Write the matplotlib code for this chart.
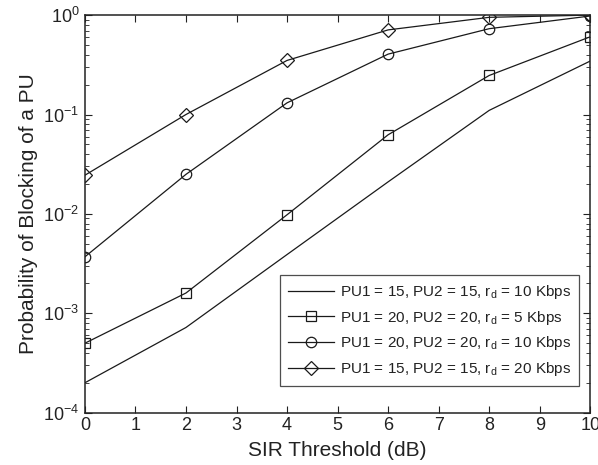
import matplotlib
matplotlib.use("Agg")
import matplotlib.pyplot as plt
from matplotlib.ticker import LogLocator, NullFormatter, FixedLocator

plt.rcParams['font.family'] = ['Liberation Sans', 'DejaVu Sans']
plt.rcParams['mathtext.fontset'] = 'custom'
plt.rcParams['mathtext.rm'] = 'Liberation Sans'
plt.rcParams['mathtext.it'] = 'Liberation Sans'
plt.rcParams['mathtext.default'] = 'regular'

sir_db = [0, 2, 4, 6, 8, 10]
p_15_15_10 = [0.0002, 0.00072, 0.0039, 0.021, 0.11, 0.345]
p_20_20_5 = [0.0005, 0.0016, 0.0098, 0.0625, 0.247, 0.605]
p_20_20_10 = [0.0037, 0.025, 0.131, 0.405, 0.73, 0.98]
p_15_15_20 = [0.0245, 0.1, 0.35, 0.71, 0.95, 1.0]

labels = [
    r'PU1 = 15, PU2 = 15, r$_d$ = 10 Kbps',
    r'PU1 = 20, PU2 = 20, r$_d$ = 5 Kbps',
    r'PU1 = 20, PU2 = 20, r$_d$ = 10 Kbps',
    r'PU1 = 15, PU2 = 15, r$_d$ = 20 Kbps',
]

fig = plt.figure(figsize=(5.98, 4.65), dpi=100)
ax = fig.add_axes([0.142, 0.1125, 0.845, 0.855])

lc = '#1a1a1a'
kw = dict(color=lc, linewidth=0.9, markerfacecolor='none', markeredgecolor=lc,
          markeredgewidth=0.9)
ax.semilogy(sir_db, p_15_15_10, label=labels[0], **kw)
ax.semilogy(sir_db, p_20_20_5, marker='s', markersize=7, label=labels[1], **kw)
ax.semilogy(sir_db, p_20_20_10, marker='o', markersize=7.5, label=labels[2], **kw)
ax.semilogy(sir_db, p_15_15_20, marker='D', markersize=7, label=labels[3], **kw)

ax.set_xlim(0, 10)
ax.set_ylim(1e-4, 1)
ax.xaxis.set_major_locator(FixedLocator(range(0, 11)))
ax.yaxis.set_major_locator(LogLocator(base=10, numticks=10))
ax.yaxis.set_minor_locator(LogLocator(base=10, subs=range(2, 10), numticks=10))
ax.yaxis.set_minor_formatter(NullFormatter())

ax.tick_params(which='both', direction='in', top=True, right=True,
               labelsize=13, colors='#222222')
ax.tick_params(which='major', length=5, width=0.8)
ax.tick_params(which='minor', length=3, width=0.6)
ax.tick_params(axis='x', pad=3)
ax.tick_params(axis='y', pad=4)
for s in ax.spines.values():
    s.set_linewidth(1.1)
    s.set_color('#222222')

ax.set_xlabel('SIR Threshold (dB)', fontsize=15, color='#222222', labelpad=5)
ax.set_ylabel('Probability of Blocking of a PU', fontsize=15, color='#222222', labelpad=4)

leg = ax.legend(loc='lower right', bbox_to_anchor=(0.977, 0.068), fontsize=11,
                frameon=True, fancybox=False, edgecolor='#222222',
                handlelength=3.0, handletextpad=0.4, labelspacing=0.5,
                borderpad=0.5, borderaxespad=0)
leg.get_frame().set_linewidth(0.9)
for t in leg.get_texts():
    t.set_color('#222222')

fig.savefig('out.png', dpi=100)
